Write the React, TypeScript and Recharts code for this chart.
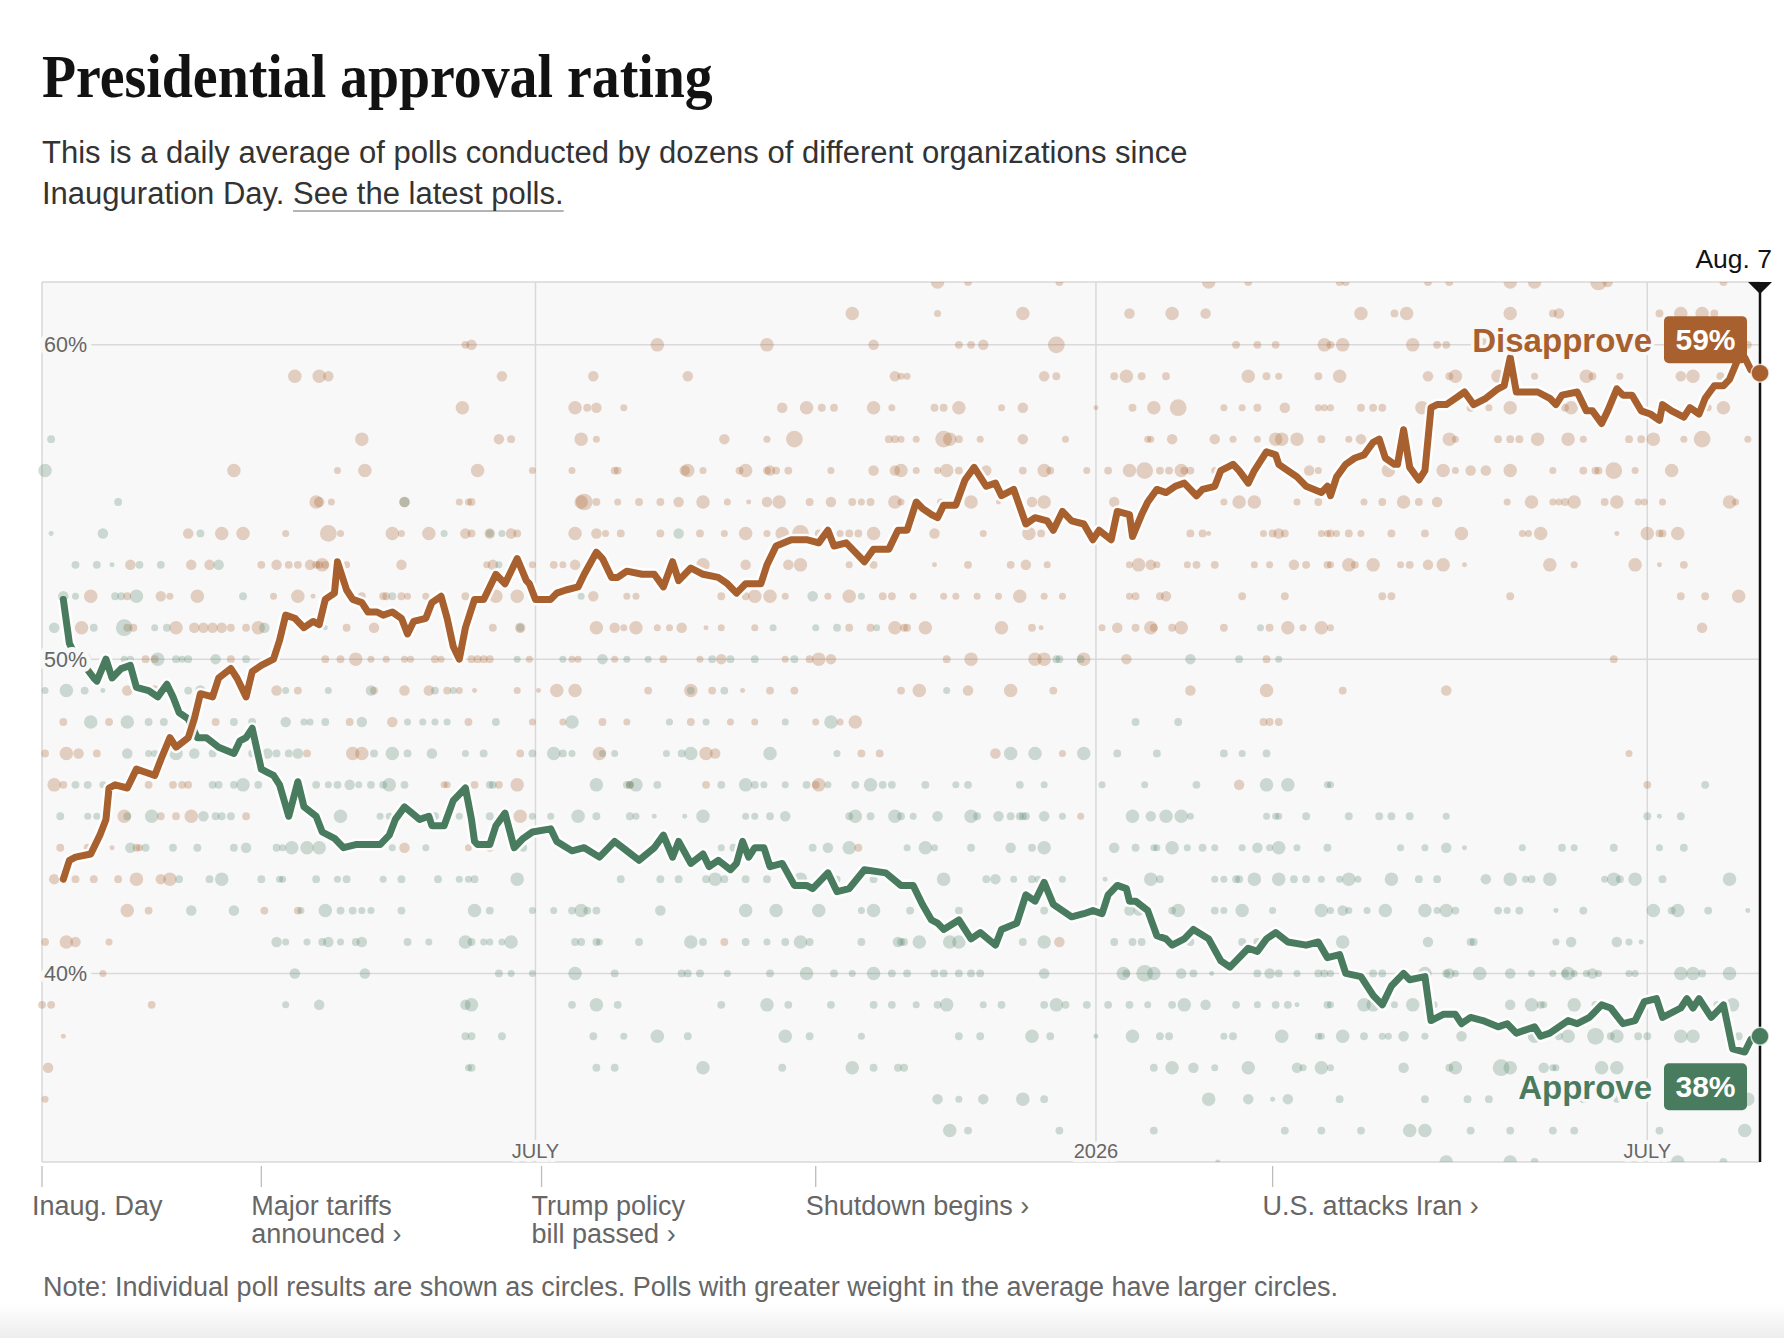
import React from 'react';
import {
  ComposedChart,
  Line,
  Scatter,
  XAxis,
  YAxis,
  ZAxis,
  CartesianGrid,
  ReferenceLine,
} from 'recharts';

const ORANGE = '#a8602f';
const GREEN = '#497c5f';
const PLOT_BG = '#f8f8f8';
const SANS = '"Liberation Sans", Arial, Helvetica, sans-serif';

// x = days since Inauguration Day (Jan. 20, 2025)
const latestDay = 564;
const latestLabel = 'Aug. 7';

const yTicks = [40, 50, 60];
const xTickDays = [162, 346, 527];
const xTickLabels = ['JULY', '2026', 'JULY'];

const eventDays = [0, 72, 164, 254, 404];
const eventLabels = [
  ['Inaug. Day'],
  ['Major tariffs', 'announced ›'],
  ['Trump policy', 'bill passed ›'],
  ['Shutdown begins ›'],
  ['U.S. attacks Iran ›'],
];

// daily average [day, %]
const disapproveTrend: [number, number][] = [
  [7, 43.0], [9, 43.6], [11, 43.7], [16, 43.8], [19, 44.4], [21, 44.9], [22, 45.9], [24, 46.0],
  [28, 45.9], [31, 46.5], [34, 46.4], [37, 46.3], [39, 46.8], [42, 47.5], [44, 47.2], [48, 47.5],
  [50, 48.1], [52, 48.9], [56, 48.8], [58, 49.4], [62, 49.7], [64, 49.4], [67, 48.8], [69, 49.6],
  [72, 49.8], [76, 50.0], [78, 50.6], [80, 51.4], [83, 51.3], [86, 51.0], [89, 51.2], [91, 51.1],
  [93, 51.9], [96, 52.1], [97, 53.1], [100, 52.2], [102, 51.9], [105, 51.8], [107, 51.5], [110, 51.5],
  [112, 51.4], [115, 51.5], [118, 51.3], [120, 50.8], [122, 51.2], [126, 51.3], [128, 51.8], [131, 52.0],
  [133, 51.3], [135, 50.4], [137, 50.0], [139, 51.0], [140, 51.3], [142, 51.9], [145, 51.9], [149, 52.7],
  [152, 52.4], [156, 53.2], [159, 52.5], [160, 52.4], [162, 51.9], [167, 51.9], [169, 52.1], [172, 52.2],
  [176, 52.3], [178, 52.7], [182, 53.4], [184, 53.2], [187, 52.6], [189, 52.6], [192, 52.8], [197, 52.7],
  [201, 52.7], [204, 52.3], [207, 53.1], [209, 52.5], [213, 52.9], [217, 52.7], [222, 52.6], [225, 52.4],
  [228, 52.1], [231, 52.4], [236, 52.4], [238, 53.0], [241, 53.6], [246, 53.8], [251, 53.8], [255, 53.7],
  [258, 54.1], [260, 53.6], [264, 53.7], [266, 53.5], [270, 53.1], [273, 53.5], [278, 53.5], [281, 54.1],
  [284, 54.1], [287, 55.0], [289, 54.8], [292, 54.6], [294, 54.5], [296, 54.9], [300, 54.9], [303, 55.7],
  [306, 56.1], [310, 55.5], [313, 55.6], [315, 55.2], [319, 55.4], [323, 54.3], [326, 54.5], [330, 54.4],
  [332, 54.1], [335, 54.7], [338, 54.4], [342, 54.3], [345, 53.8], [347, 54.1], [351, 53.8], [353, 54.7],
  [357, 54.6], [358, 53.9], [361, 54.6], [363, 55.0], [366, 55.4], [369, 55.3], [372, 55.5], [375, 55.6],
  [379, 55.2], [381, 55.4], [385, 55.5], [387, 56.0], [391, 56.2], [393, 56.0], [396, 55.6], [398, 56.0],
  [402, 56.6], [405, 56.5], [406, 56.2], [409, 56.0], [412, 55.8], [415, 55.5], [420, 55.3], [422, 55.5],
  [423, 55.2], [425, 55.8], [428, 56.2], [431, 56.4], [434, 56.5], [437, 56.9], [439, 57.0], [441, 56.4],
  [444, 56.2], [445, 56.2], [447, 57.3], [449, 56.1], [452, 55.7], [454, 56.0], [456, 58.0], [458, 58.1],
  [461, 58.1], [464, 58.3], [467, 58.5], [470, 58.1], [474, 58.3], [478, 58.6], [480, 58.7], [482, 59.6],
  [484, 58.5], [486, 58.5], [491, 58.5], [495, 58.3], [497, 58.1], [499, 58.4], [504, 58.5], [507, 57.9],
  [509, 57.9], [512, 57.5], [514, 57.9], [517, 58.6], [519, 58.4], [522, 58.4], [525, 57.9], [528, 57.8],
  [531, 57.6], [532, 58.1], [535, 57.9], [539, 57.7], [541, 58.0], [544, 57.8], [546, 58.3], [549, 58.7],
  [552, 58.7], [554, 58.9], [557, 59.6], [559, 59.6], [561, 59.2], [564, 59.1],
];

const approveTrend: [number, number][] = [
  [7, 51.9], [9, 50.5], [10, 50.3], [17, 49.4], [18, 49.3], [21, 50.0], [23, 49.4], [26, 49.7],
  [29, 49.8], [31, 49.1], [35, 49.0], [38, 48.8], [41, 49.2], [43, 48.8], [45, 48.3], [48, 48.1],
  [51, 47.5], [54, 47.5], [58, 47.2], [63, 47.0], [65, 47.4], [67, 47.5], [69, 47.8], [72, 46.5],
  [74, 46.4], [76, 46.3], [78, 46.0], [81, 45.0], [84, 46.1], [86, 45.3], [90, 45.0], [92, 44.5],
  [96, 44.3], [99, 44.0], [103, 44.1], [109, 44.1], [111, 44.1], [114, 44.4], [116, 44.9], [119, 45.3],
  [124, 44.9], [127, 45.0], [128, 44.7], [132, 44.7], [135, 45.5], [139, 45.9], [141, 44.9], [142, 44.2],
  [143, 44.1], [147, 44.1], [149, 44.7], [152, 45.1], [155, 44.0], [158, 44.3], [161, 44.5], [167, 44.6],
  [169, 44.2], [174, 43.9], [178, 44.0], [183, 43.7], [188, 44.2], [192, 43.9], [196, 43.6], [201, 44.0],
  [204, 44.4], [207, 43.7], [209, 44.2], [213, 43.5], [217, 43.8], [219, 43.4], [222, 43.6], [226, 43.3],
  [228, 43.5], [230, 44.2], [232, 43.7], [234, 44.0], [237, 44.0], [239, 43.4], [243, 43.5], [247, 42.8],
  [251, 42.8], [253, 42.7], [258, 43.2], [261, 42.6], [265, 42.7], [270, 43.3], [277, 43.2], [282, 42.8],
  [286, 42.8], [289, 42.2], [292, 41.7], [294, 41.6], [296, 41.4], [301, 41.7], [305, 41.1], [308, 41.3],
  [313, 40.9], [315, 41.4], [320, 41.6], [323, 42.5], [326, 42.3], [329, 42.9], [332, 42.2], [338, 41.8],
  [342, 41.9], [345, 42.0], [348, 41.9], [350, 42.5], [353, 42.8], [356, 42.7], [357, 42.3], [359, 42.3],
  [363, 42.0], [366, 41.2], [369, 41.1], [371, 40.9], [375, 41.1], [378, 41.4], [383, 41.1], [387, 40.4],
  [390, 40.2], [396, 40.8], [399, 40.7], [402, 41.1], [405, 41.3], [409, 41.0], [415, 40.9], [419, 41.0],
  [422, 40.5], [426, 40.6], [428, 40.0], [433, 39.9], [437, 39.3], [440, 39.0], [443, 39.6], [447, 40.0],
  [449, 39.8], [454, 39.9], [456, 38.5], [460, 38.7], [464, 38.7], [466, 38.4], [469, 38.6], [473, 38.5],
  [478, 38.3], [481, 38.4], [484, 38.1], [490, 38.3], [492, 38.0], [495, 38.1], [501, 38.5], [504, 38.4],
  [508, 38.6], [512, 39.0], [515, 38.9], [519, 38.4], [523, 38.5], [526, 39.1], [530, 39.2], [532, 38.6],
  [538, 38.9], [540, 39.2], [542, 38.9], [544, 39.2], [548, 38.6], [550, 38.8], [552, 39.0], [555, 37.6],
  [559, 37.5], [561, 37.9], [564, 38.0],
];

// individual polls [day, %, weight]
const disapprovePollsA: [number, number, number][] = [
  [139, 60, 4], [83, 59, 14], [91, 59, 14], [94, 59, 8], [138, 58, 14], [105, 57, 14],
  [63, 56, 14], [97, 56, 3], [106, 56, 14],
  [90, 55, 14], [91, 55, 8], [95, 55, 3], [119, 55, 8], [137, 55, 3], [140, 55, 3],
  [48, 54, 8], [59, 54, 14], [66, 54, 14], [80, 54, 3], [94, 54, 22], [98, 54, 3], [115, 54, 14], [118, 54, 3], [127, 54, 14], [139, 54, 8],
  [29, 53, 8], [49, 53, 8], [55, 53, 8], [72, 53, 4], [77, 53, 8], [81, 53, 4], [84, 53, 4], [88, 53, 8], [90, 53, 4], [91, 53, 4], [92, 53, 14], [93, 53, 4], [100, 53, 3], [118, 53, 8],
  [16, 52, 14], [28, 52, 4], [39, 52, 8], [42, 52, 3], [51, 52, 14], [76, 52, 3], [84, 52, 14], [89, 52, 1], [105, 52, 4], [112, 52, 4], [113, 52, 4], [118, 52, 4], [120, 52, 3], [126, 52, 3], [139, 52, 4],
  [13, 51, 14], [28, 51, 4], [30, 51, 4], [44, 51, 14], [50, 51, 8], [53, 51, 8], [56, 51, 8], [59, 51, 8], [62, 51, 4], [67, 51, 4], [71, 51, 14], [100, 51, 4], [109, 51, 8],
  [34, 50, 4], [37, 50, 4], [62, 50, 4], [93, 50, 4], [98, 50, 4], [103, 50, 14], [108, 50, 3], [113, 50, 3], [119, 50, 3], [121, 50, 3], [129, 50, 4], [131, 50, 3],
  [28, 49, 8], [37, 49, 8], [77, 49, 8], [84, 49, 4], [109, 49, 4], [119, 49, 8], [127, 49, 8], [133, 49, 4], [137, 49, 3],
  [7, 48, 4], [22, 48, 4], [57, 48, 4], [101, 48, 4], [115, 48, 8], [140, 48, 4],
  [1, 47, 4], [8, 47, 14], [12, 47, 8], [18, 47, 4], [87, 47, 4], [102, 47, 14], [105, 47, 14],
  [4, 46, 14], [7, 46, 4], [35, 46, 4], [43, 46, 4], [46, 46, 4], [48, 46, 4], [132, 46, 3], [133, 46, 3],
  [27, 45, 14], [39, 45, 4], [44, 45, 4], [49, 45, 14], [67, 45, 4],
  [6, 44, 4], [15, 44, 4], [23, 44, 1], [31, 44, 4], [32, 44, 3], [119, 44, 8], [140, 44, 3],
  [4, 43, 8], [11, 43, 4], [17, 43, 4], [25, 43, 4], [31, 43, 14], [39, 43, 8], [42, 43, 14],
  [28, 42, 14], [35, 42, 4], [73, 42, 4], [84, 42, 4],
  [1, 41, 4], [8, 41, 14], [11, 41, 8], [22, 41, 3], [20, 40, 3],
  [0, 39, 4], [3, 39, 4], [36, 39, 4], [7, 38, 1], [2, 37, 8], [1, 36, 3],
];

const disapprovePollsB: [number, number, number][] = [
  [266, 61, 14], [141, 60, 8], [202, 60, 14], [238, 60, 14], [273, 60, 8],
  [151, 59, 8], [181, 59, 8], [212, 59, 8], [280, 59, 8],
  [175, 58, 14], [179, 58, 4], [182, 58, 8], [191, 58, 3], [243, 58, 8], [251, 58, 14], [256, 58, 4], [260, 58, 4], [273, 58, 14], [279, 58, 3],
  [150, 57, 8], [154, 57, 4], [177, 57, 14], [182, 57, 3], [224, 57, 8], [238, 57, 3], [247, 57, 22], [278, 57, 4], [280, 57, 4],
  [143, 56, 14], [161, 56, 3], [174, 56, 3], [188, 56, 4], [189, 56, 4], [211, 56, 8], [212, 56, 14], [217, 56, 3], [229, 56, 4], [231, 56, 14], [238, 56, 4], [239, 56, 8], [241, 56, 4], [245, 56, 4], [259, 56, 3], [273, 56, 8], [280, 56, 8],
  [141, 55, 4], [177, 55, 14], [178, 55, 22], [182, 55, 4], [189, 55, 3], [196, 55, 4], [203, 55, 4], [209, 55, 8], [217, 55, 14], [225, 55, 3], [232, 55, 1], [238, 55, 8], [242, 55, 14], [252, 55, 4], [259, 55, 8], [266, 55, 4], [269, 55, 3], [272, 55, 4], [280, 55, 14],
  [141, 54, 4], [147, 54, 8], [154, 54, 8], [156, 54, 4], [175, 54, 14], [182, 54, 8], [185, 54, 3], [190, 54, 4], [203, 54, 4], [216, 54, 4], [224, 54, 3], [231, 54, 14], [238, 54, 3], [243, 54, 14], [249, 54, 22], [255, 54, 4], [262, 54, 3], [265, 54, 4], [268, 54, 4], [273, 54, 14],
  [146, 53, 3], [148, 53, 8], [161, 53, 3], [168, 53, 4], [171, 53, 3], [175, 53, 8], [217, 53, 14], [231, 53, 8], [245, 53, 8], [249, 53, 14], [265, 53, 3], [273, 53, 4],
  [149, 52, 14], [156, 52, 14], [181, 52, 8], [192, 52, 3], [195, 52, 3], [223, 52, 4], [231, 52, 4], [234, 52, 14], [239, 52, 14], [244, 52, 3], [258, 52, 3], [265, 52, 14], [276, 52, 4], [279, 52, 4],
  [148, 51, 4], [157, 51, 8], [182, 51, 14], [188, 51, 8], [191, 51, 3], [195, 51, 14], [202, 51, 3], [206, 51, 3], [210, 51, 8], [218, 51, 1], [223, 51, 3], [234, 51, 3], [265, 51, 4], [272, 51, 4], [280, 51, 14],
  [141, 50, 4], [143, 50, 4], [145, 50, 4], [147, 50, 4], [160, 50, 3], [174, 50, 3], [176, 50, 3], [188, 50, 3], [204, 50, 4], [216, 50, 3], [223, 50, 8], [244, 50, 3], [252, 50, 4], [255, 50, 14], [259, 50, 8],
  [142, 49, 1], [156, 49, 3], [163, 49, 1], [169, 49, 14], [175, 49, 14], [199, 49, 4], [213, 49, 14], [220, 49, 4], [230, 49, 1], [239, 49, 4], [247, 49, 4],
  [161, 48, 3], [171, 48, 3], [184, 48, 4], [192, 48, 3], [213, 48, 4], [226, 48, 3], [234, 48, 3], [254, 48, 3], [262, 48, 3], [267, 48, 14],
  [157, 47, 4], [183, 47, 14], [218, 47, 14], [221, 47, 8], [269, 47, 4], [275, 47, 4],
  [142, 46, 4], [150, 46, 4], [156, 46, 14], [193, 46, 4], [218, 46, 4], [254, 46, 4], [255, 46, 14],
  [157, 45, 14], [147, 44, 4], [268, 44, 4], [224, 41, 4],
];

const disapprovePollsC: [number, number, number][] = [
  [294, 62, 14], [304, 62, 4], [334, 62, 4], [383, 62, 14], [396, 62, 4],
  [294, 61, 3], [322, 61, 14], [357, 61, 8], [371, 61, 14], [382, 61, 8],
  [301, 60, 4], [305, 60, 4], [309, 60, 8], [333, 60, 22], [392, 60, 4], [399, 60, 4], [405, 60, 4], [421, 60, 14],
  [282, 59, 3], [284, 59, 3], [329, 59, 8], [333, 59, 4], [352, 59, 4], [356, 59, 14], [361, 59, 4], [369, 59, 4], [396, 59, 14], [402, 59, 4], [406, 59, 3], [419, 59, 4],
  [293, 58, 4], [296, 58, 4], [301, 58, 14], [315, 58, 3], [322, 58, 8], [346, 58, 1], [358, 58, 4], [365, 58, 14], [373, 58, 22], [388, 58, 3], [394, 58, 3], [399, 58, 4], [408, 58, 8], [419, 58, 3], [421, 58, 3],
  [282, 57, 3], [287, 57, 3], [296, 57, 22], [298, 57, 14], [301, 57, 4], [308, 57, 3], [322, 57, 8], [336, 57, 3], [363, 57, 3], [364, 57, 3], [371, 57, 8], [385, 57, 8], [391, 57, 3], [399, 57, 3], [405, 57, 14], [407, 57, 14], [412, 57, 14], [420, 57, 4],
  [282, 56, 14], [287, 56, 3], [294, 56, 3], [297, 56, 14], [301, 56, 4], [310, 56, 8], [322, 56, 4], [329, 56, 14], [331, 56, 4], [343, 56, 3], [350, 56, 4], [357, 56, 14], [362, 56, 22], [367, 56, 4], [370, 56, 4], [374, 56, 14], [375, 56, 4], [377, 56, 4], [385, 56, 3], [416, 56, 8], [419, 56, 3],
  [282, 55, 3], [295, 55, 3], [305, 55, 14], [314, 55, 1], [325, 55, 8], [329, 55, 14], [352, 55, 8], [388, 55, 3], [393, 55, 14], [398, 55, 14], [412, 55, 3], [419, 55, 4],
  [293, 54, 8], [309, 54, 3], [324, 54, 14], [328, 54, 4], [377, 54, 4], [381, 54, 4], [383, 54, 1], [401, 54, 3], [404, 54, 4], [406, 54, 8], [408, 54, 4], [420, 54, 3], [422, 54, 3],
  [293, 53, 1], [304, 53, 4], [318, 53, 4], [323, 53, 8], [330, 53, 3], [357, 53, 3], [360, 53, 14], [364, 53, 8], [366, 53, 3], [376, 53, 3], [379, 53, 4], [385, 53, 4], [398, 53, 3], [403, 53, 3], [411, 53, 8], [415, 53, 4], [422, 53, 4],
  [286, 52, 3], [296, 52, 3], [300, 52, 3], [307, 52, 3], [314, 52, 3], [321, 52, 14], [329, 52, 3], [335, 52, 3], [357, 52, 3], [359, 52, 4], [367, 52, 4], [369, 52, 8], [394, 52, 4], [408, 52, 4],
  [283, 51, 4], [284, 51, 4], [290, 51, 14], [315, 51, 14], [325, 51, 4], [328, 51, 1], [348, 51, 3], [353, 51, 8], [359, 51, 4], [364, 51, 14], [365, 51, 4], [371, 51, 4], [374, 51, 14], [388, 51, 4], [403, 51, 4], [409, 51, 14], [414, 51, 3], [420, 51, 14],
  [297, 50, 4], [305, 50, 14], [326, 50, 14], [329, 50, 14], [342, 50, 14], [356, 50, 8], [402, 50, 4],
  [282, 49, 4], [288, 49, 14], [304, 49, 8], [318, 49, 14], [332, 49, 4], [377, 49, 8], [402, 49, 14],
  [401, 48, 4], [403, 48, 4], [406, 48, 4], [313, 47, 8], [335, 47, 3], [393, 46, 8], [341, 45, 3], [334, 41, 8],
];

const disapprovePollsD: [number, number, number][] = [
  [426, 62, 4], [428, 62, 4], [455, 62, 4], [462, 62, 4], [482, 62, 14], [490, 62, 14], [511, 62, 22], [514, 62, 8], [552, 62, 4],
  [433, 61, 14], [444, 61, 4], [448, 61, 14], [482, 61, 14], [496, 61, 4], [498, 61, 8], [531, 61, 4], [538, 61, 14], [545, 61, 14], [549, 61, 4],
  [423, 60, 4], [427, 60, 14], [450, 60, 14], [458, 60, 4], [461, 60, 4], [473, 60, 14], [560, 60, 4],
  [426, 59, 14], [455, 59, 8], [462, 59, 4], [464, 59, 14], [478, 59, 14], [490, 59, 3], [507, 59, 14], [509, 59, 4], [518, 59, 3], [538, 59, 8], [542, 59, 14], [551, 59, 4],
  [423, 58, 3], [433, 58, 4], [437, 58, 4], [440, 58, 4], [453, 58, 14], [469, 58, 4], [475, 58, 3], [482, 58, 14], [500, 58, 4], [502, 58, 14], [547, 58, 3], [552, 58, 14],
  [429, 57, 3], [433, 57, 8], [439, 57, 4], [462, 57, 14], [464, 57, 3], [478, 57, 4], [482, 57, 4], [485, 57, 4], [491, 57, 14], [501, 57, 14], [506, 57, 3], [521, 57, 4], [525, 57, 4], [529, 57, 14], [539, 57, 3], [545, 57, 22], [560, 57, 3],
  [442, 56, 14], [460, 56, 14], [464, 56, 3], [469, 56, 8], [474, 56, 8], [482, 56, 14], [496, 56, 3], [506, 56, 4], [510, 56, 4], [511, 56, 4], [516, 56, 22], [523, 56, 3], [535, 56, 14],
  [434, 55, 3], [440, 55, 4], [447, 55, 14], [452, 55, 4], [458, 55, 8], [481, 55, 3], [489, 55, 14], [496, 55, 3], [498, 55, 3], [500, 55, 4], [503, 55, 14], [513, 55, 4], [517, 55, 14], [524, 55, 3], [526, 55, 3], [532, 55, 3], [554, 55, 14], [556, 55, 3],
  [423, 54, 4], [425, 54, 3], [429, 54, 4], [433, 54, 3], [443, 54, 4], [454, 54, 4], [466, 54, 14], [486, 54, 3], [488, 54, 3], [492, 54, 14], [517, 54, 1], [527, 54, 14], [531, 54, 4], [532, 54, 4], [537, 54, 14],
  [423, 53, 3], [429, 53, 14], [431, 53, 4], [437, 53, 14], [446, 53, 3], [449, 53, 4], [455, 53, 8], [460, 53, 14], [467, 53, 1], [495, 53, 14], [503, 53, 3], [523, 53, 14], [531, 53, 1], [539, 53, 4],
  [440, 52, 4], [443, 52, 4], [482, 52, 4], [538, 52, 4], [546, 52, 4], [557, 52, 14],
  [423, 51, 3], [545, 51, 8], [516, 50, 4], [427, 49, 4], [461, 49, 8], [521, 47, 3], [527, 46, 4],
];

const approvePollsA: [number, number, number][] = [
  [3, 57, 4], [1, 56, 14], [25, 55, 4], [119, 55, 8],
  [3, 54, 1], [20, 54, 8], [52, 54, 4], [132, 54, 3],
  [11, 53, 4], [18, 53, 4], [23, 53, 1], [32, 53, 4], [39, 53, 4], [58, 53, 8],
  [7, 52, 8], [11, 52, 3], [24, 52, 4], [26, 52, 4], [31, 52, 14], [66, 52, 4], [115, 52, 4],
  [4, 51, 8], [17, 51, 4], [27, 51, 22], [37, 51, 3], [41, 51, 4], [73, 51, 8], [93, 51, 1],
  [14, 50, 14], [27, 50, 3], [29, 50, 3], [38, 50, 14], [44, 50, 4], [46, 50, 3], [48, 50, 4], [57, 50, 8], [67, 50, 4],
  [1, 49, 3], [8, 49, 14], [14, 49, 4], [20, 49, 1], [48, 49, 4], [52, 49, 8], [80, 49, 3], [94, 49, 3], [108, 49, 8], [129, 49, 4], [135, 49, 3],
  [16, 48, 14], [28, 48, 14], [35, 48, 4], [40, 48, 4], [63, 48, 4], [69, 48, 4], [80, 48, 8], [86, 48, 3], [88, 48, 3], [93, 48, 4], [105, 48, 8], [120, 48, 3], [125, 48, 3], [129, 48, 3], [133, 48, 3],
  [28, 47, 8], [35, 47, 3], [37, 47, 3], [44, 47, 14], [50, 47, 8], [56, 47, 4], [69, 47, 4], [74, 47, 8], [77, 47, 4], [81, 47, 4], [84, 47, 8], [109, 47, 4], [115, 47, 14], [120, 47, 4], [128, 47, 8], [139, 47, 3],
  [11, 46, 4], [15, 46, 4], [20, 46, 3], [56, 46, 4], [58, 46, 4], [63, 46, 4], [66, 46, 14], [71, 46, 4], [90, 46, 4], [94, 46, 3], [97, 46, 4], [101, 46, 8], [104, 46, 3], [108, 46, 4], [112, 46, 4], [114, 46, 14], [119, 46, 4],
  [6, 45, 4], [15, 45, 3], [18, 45, 3], [28, 45, 4], [36, 45, 14], [53, 45, 8], [57, 45, 4], [59, 45, 4], [62, 45, 4], [98, 45, 14], [111, 45, 3], [114, 45, 3], [126, 45, 3], [129, 45, 4], [137, 45, 3],
  [29, 44, 8], [34, 44, 4], [43, 44, 4], [51, 44, 4], [63, 44, 4], [67, 44, 8], [77, 44, 4], [79, 44, 3], [82, 44, 14], [87, 44, 14], [91, 44, 14], [115, 44, 3], [126, 44, 3],
  [45, 43, 4], [55, 43, 4], [59, 43, 14], [72, 43, 4], [78, 43, 3], [79, 43, 3], [90, 43, 4], [97, 43, 3], [100, 43, 4], [112, 43, 3], [118, 43, 4], [130, 43, 4], [137, 43, 3], [140, 43, 3],
  [49, 42, 8], [63, 42, 8], [85, 42, 3], [93, 42, 14], [98, 42, 4], [102, 42, 4], [105, 42, 3], [108, 42, 3], [118, 42, 4],
  [77, 41, 8], [80, 41, 3], [87, 41, 3], [92, 41, 4], [94, 41, 8], [98, 41, 3], [103, 41, 4], [105, 41, 8], [120, 41, 4], [127, 41, 3], [139, 41, 14],
  [83, 40, 8], [106, 40, 8], [80, 39, 3], [91, 39, 8], [139, 39, 8], [139, 38, 4], [140, 37, 3],
];

const approvePollsB: [number, number, number][] = [
  [147, 54, 4], [151, 54, 3], [209, 54, 8], [150, 53, 3], [177, 52, 3], [253, 52, 8], [269, 52, 3],
  [157, 51, 4], [240, 51, 3], [254, 51, 3], [261, 51, 4], [274, 51, 3],
  [156, 50, 3], [171, 50, 3], [184, 50, 8], [192, 50, 3], [199, 50, 3], [220, 50, 4], [226, 50, 4], [234, 50, 4], [247, 50, 4],
  [213, 49, 4], [224, 49, 4],
  [149, 48, 4], [174, 48, 14], [206, 48, 3], [218, 48, 3], [244, 48, 3], [259, 48, 14],
  [145, 47, 4], [161, 47, 4], [168, 47, 14], [171, 47, 4], [174, 47, 3], [184, 47, 3], [188, 47, 3], [205, 47, 3], [210, 47, 4], [213, 47, 14], [239, 47, 14], [261, 47, 3],
  [147, 46, 4], [148, 46, 4], [182, 46, 14], [192, 46, 4], [193, 46, 4], [195, 46, 14], [202, 46, 4], [223, 46, 4], [231, 46, 14], [234, 46, 4], [237, 46, 3], [244, 46, 3], [251, 46, 4], [258, 46, 3], [267, 46, 4], [272, 46, 14], [276, 46, 4], [279, 46, 4],
  [147, 45, 4], [161, 45, 3], [167, 45, 3], [176, 45, 14], [182, 45, 4], [193, 45, 4], [195, 45, 3], [201, 45, 1], [211, 45, 1], [217, 45, 14], [231, 45, 3], [234, 45, 3], [239, 45, 4], [244, 45, 8], [265, 45, 4], [267, 45, 14], [272, 45, 4], [280, 45, 14],
  [158, 44, 4], [178, 44, 4], [223, 44, 3], [227, 44, 4], [253, 44, 4], [258, 44, 8], [265, 44, 14],
  [142, 43, 4], [156, 43, 14], [190, 43, 4], [203, 43, 4], [209, 43, 4], [218, 43, 4], [221, 43, 14], [224, 43, 4], [231, 43, 4], [238, 43, 4], [249, 43, 14], [261, 43, 3], [273, 43, 4],
  [142, 42, 14], [147, 42, 4], [161, 42, 3], [168, 42, 3], [174, 42, 4], [177, 42, 14], [179, 42, 4], [182, 42, 4], [203, 42, 8], [231, 42, 14], [241, 42, 14], [255, 42, 14], [269, 42, 3], [273, 42, 14],
  [141, 41, 4], [145, 41, 3], [147, 41, 3], [151, 41, 3], [154, 41, 14], [175, 41, 4], [177, 41, 4], [182, 41, 4], [183, 41, 3], [196, 41, 4], [213, 41, 14], [217, 41, 4], [231, 41, 4], [238, 41, 3], [244, 41, 4], [249, 41, 14], [252, 41, 4], [269, 41, 4], [281, 41, 8],
  [150, 40, 4], [154, 40, 3], [161, 40, 3], [175, 40, 14], [188, 40, 4], [210, 40, 4], [212, 40, 4], [216, 40, 4], [225, 40, 3], [239, 40, 4], [251, 40, 14], [260, 40, 4], [266, 40, 3], [273, 40, 14], [279, 40, 4],
  [141, 39, 14], [174, 39, 4], [182, 39, 14], [189, 39, 4], [223, 39, 4], [238, 39, 14], [245, 39, 4], [259, 39, 4], [273, 39, 4], [279, 39, 4],
  [141, 38, 4], [151, 38, 4], [181, 38, 4], [191, 38, 3], [202, 38, 14], [212, 38, 4], [244, 38, 14], [252, 38, 4], [269, 38, 3],
  [141, 37, 4], [182, 37, 4], [188, 37, 4], [217, 37, 14], [243, 37, 4], [266, 37, 14], [273, 37, 4], [281, 37, 4],
];

const approvePollsC: [number, number, number][] = [
  [400, 51, 3], [333, 50, 4], [334, 50, 4], [341, 50, 4], [377, 50, 8], [393, 50, 4], [406, 50, 3], [297, 49, 3],
  [359, 48, 4], [373, 48, 4],
  [318, 47, 14], [326, 47, 14], [342, 47, 14], [353, 47, 4], [366, 47, 4], [388, 47, 4], [394, 47, 3], [402, 47, 4],
  [290, 46, 4], [300, 46, 3], [304, 46, 4], [321, 46, 4], [329, 46, 3], [348, 46, 3], [362, 46, 3], [379, 46, 4], [402, 46, 14], [409, 46, 14], [422, 46, 3],
  [282, 45, 4], [286, 45, 3], [294, 45, 8], [305, 45, 14], [307, 45, 4], [314, 45, 8], [318, 45, 4], [321, 45, 4], [322, 45, 4], [323, 45, 4], [329, 45, 8], [335, 45, 3], [358, 45, 14], [364, 45, 8], [369, 45, 14], [374, 45, 14], [377, 45, 3], [402, 45, 3], [405, 45, 3], [406, 45, 3], [415, 45, 4],
  [284, 44, 3], [290, 44, 14], [293, 44, 3], [305, 44, 4], [318, 44, 8], [325, 44, 4], [329, 44, 14], [352, 44, 8], [359, 44, 4], [365, 44, 3], [366, 44, 3], [371, 44, 14], [376, 44, 3], [381, 44, 4], [385, 44, 3], [394, 44, 3], [399, 44, 8], [403, 44, 3], [406, 44, 14], [412, 44, 3], [422, 44, 4],
  [296, 43, 14], [310, 43, 4], [313, 43, 8], [319, 43, 3], [325, 43, 4], [327, 43, 3], [335, 43, 3], [349, 43, 1], [364, 43, 14], [367, 43, 4], [385, 43, 3], [388, 43, 3], [392, 43, 4], [393, 43, 4], [398, 43, 14], [406, 43, 14], [411, 43, 4], [415, 43, 4], [420, 43, 3],
  [285, 42, 4], [301, 42, 4], [329, 42, 4], [357, 42, 8], [360, 42, 8], [371, 42, 4], [373, 42, 14], [385, 42, 4], [388, 42, 3], [394, 42, 14], [404, 42, 3], [420, 42, 14],
  [282, 41, 4], [283, 41, 4], [288, 41, 14], [298, 41, 14], [301, 41, 14], [322, 41, 4], [329, 41, 14], [352, 41, 4], [358, 41, 4], [361, 41, 4], [377, 41, 4], [394, 41, 4], [399, 41, 4], [419, 41, 4],
  [284, 40, 4], [293, 40, 4], [296, 40, 4], [301, 40, 4], [305, 40, 4], [308, 40, 4], [329, 40, 8], [355, 40, 14], [356, 40, 4], [362, 40, 22], [365, 40, 14], [374, 40, 8], [378, 40, 4], [384, 40, 1], [399, 40, 4], [403, 40, 8], [406, 40, 4], [412, 40, 3], [419, 40, 4], [421, 40, 4],
  [287, 39, 3], [294, 39, 4], [297, 39, 14], [309, 39, 3], [315, 39, 4], [329, 39, 4], [333, 39, 14], [336, 39, 4], [343, 39, 4], [350, 39, 4], [357, 39, 4], [363, 39, 3], [371, 39, 4], [375, 39, 14], [382, 39, 8], [392, 39, 4], [399, 39, 3], [405, 39, 4], [409, 39, 4], [412, 39, 1], [422, 39, 4],
  [301, 38, 4], [308, 38, 4], [325, 38, 14], [331, 38, 4], [346, 38, 1], [358, 38, 14], [367, 38, 4], [370, 38, 4], [388, 38, 3], [391, 38, 4], [407, 38, 14], [419, 38, 3], [420, 38, 3],
  [283, 37, 4], [365, 37, 4], [371, 37, 14], [378, 37, 8], [385, 37, 3], [396, 37, 14], [412, 37, 8], [414, 37, 3], [420, 37, 14],
  [294, 36, 8], [301, 36, 3], [309, 36, 8], [322, 36, 14], [329, 36, 4], [383, 36, 14], [396, 36, 8], [404, 36, 1], [409, 36, 8],
  [298, 35, 14], [304, 35, 4], [334, 35, 4], [365, 35, 4], [408, 35, 4], [420, 35, 4], [386, 34, 1],
];

const approvePollsD: [number, number, number][] = [
  [423, 46, 3], [546, 46, 4],
  [429, 45, 4], [439, 45, 4], [443, 45, 4], [449, 45, 4], [461, 45, 3], [527, 45, 4], [531, 45, 1], [538, 45, 4],
  [446, 44, 3], [454, 44, 3], [461, 44, 8], [467, 44, 1], [486, 44, 3], [499, 44, 4], [503, 44, 3], [516, 44, 4], [531, 44, 3], [539, 44, 4],
  [426, 43, 3], [429, 43, 14], [432, 43, 3], [443, 43, 14], [452, 43, 4], [458, 43, 4], [474, 43, 8], [482, 43, 14], [487, 43, 3], [489, 43, 4], [495, 43, 14], [513, 43, 3], [516, 43, 14], [518, 43, 4], [523, 43, 14], [532, 43, 4], [554, 43, 14],
  [423, 42, 3], [427, 42, 8], [429, 42, 3], [435, 42, 3], [441, 42, 14], [454, 42, 14], [458, 42, 3], [461, 42, 14], [464, 42, 4], [478, 42, 4], [481, 42, 3], [485, 42, 4], [497, 42, 1], [506, 42, 4], [529, 42, 14], [535, 42, 4], [537, 42, 14], [547, 42, 4], [560, 42, 1],
  [427, 41, 14], [455, 41, 8], [469, 41, 4], [470, 41, 4], [497, 41, 3], [502, 41, 8], [517, 41, 8], [521, 41, 3], [525, 41, 1],
  [423, 40, 3], [437, 40, 4], [440, 40, 4], [454, 40, 14], [461, 40, 4], [462, 40, 8], [464, 40, 3], [472, 40, 14], [482, 40, 8], [489, 40, 3], [496, 40, 3], [500, 40, 4], [501, 40, 14], [503, 40, 3], [507, 40, 3], [509, 40, 8], [511, 40, 3], [521, 40, 3], [523, 40, 3], [538, 40, 14], [542, 40, 14], [545, 40, 4], [554, 40, 14],
  [423, 39, 3], [434, 39, 14], [437, 39, 14], [444, 39, 3], [450, 39, 14], [457, 39, 3], [482, 39, 8], [489, 39, 14], [492, 39, 4], [493, 39, 3], [503, 39, 14], [510, 39, 4], [550, 39, 4], [555, 39, 14],
  [427, 38, 14], [434, 38, 4], [440, 38, 3], [442, 38, 3], [447, 38, 8], [454, 38, 3], [466, 38, 8], [490, 38, 14], [498, 38, 4], [501, 38, 14], [510, 38, 22], [515, 38, 4], [517, 38, 14], [524, 38, 4], [527, 38, 4], [538, 38, 14], [542, 38, 14], [557, 38, 4],
  [423, 37, 3], [447, 37, 8], [462, 37, 4], [464, 37, 14], [479, 37, 22], [482, 37, 14], [493, 37, 8], [496, 37, 3], [497, 37, 3], [512, 37, 14], [517, 37, 14],
  [426, 36, 4], [454, 36, 4], [468, 36, 4], [475, 36, 4], [506, 36, 4], [517, 36, 3], [560, 36, 14],
  [433, 35, 4], [449, 35, 14], [454, 35, 14], [469, 35, 4], [482, 35, 4], [496, 35, 4], [503, 35, 4], [531, 35, 4], [559, 35, 14],
  [461, 34, 14], [482, 34, 14], [490, 34, 4], [537, 34, 14], [552, 34, 4],
];

const toTrend = (rows: [number, number][]) => rows.map(([day, value]) => ({ day, value }));
const toPolls = (rows: [number, number, number][]) => rows.map(([day, pct, w]) => ({ day, pct, w }));

const disapproveData = toTrend(disapproveTrend);
const approveData = toTrend(approveTrend);
const disapprovePolls = toPolls([...disapprovePollsA, ...disapprovePollsB, ...disapprovePollsC, ...disapprovePollsD]);
const approvePolls = toPolls([...approvePollsA, ...approvePollsB, ...approvePollsC, ...approvePollsD]);

// text drawn twice: a background-coloured halo underneath, then the fill on top
const HaloText = ({ halo, haloWidth, children, ...rest }: any) => (
  <g>
    <text {...rest} fill={halo} stroke={halo} strokeWidth={haloWidth} strokeLinejoin="round">
      {children}
    </text>
    <text {...rest}>{children}</text>
  </g>
);

const renderYTick = (props: any) => {
  const { x, y, payload } = props;
  return (
    <HaloText x={x + 2} y={y + 7.5} textAnchor="start" fontSize={21.5} fill="#666" halo={PLOT_BG} haloWidth={10}>
      {payload.value}%
    </HaloText>
  );
};

const renderXTick = (props: any) => {
  const { x, y, payload } = props;
  const label = xTickLabels[xTickDays.indexOf(payload.value)];
  return (
    <HaloText x={x} y={y - 4} textAnchor="middle" fontSize={20} fill="#666" halo={PLOT_BG} haloWidth={8}>
      {label}
    </HaloText>
  );
};

// latest-day marker: triangle + date above the plot
const renderLatest = (props: any) => {
  const { x, y } = props.viewBox;
  return (
    <g>
      <path d={`M${x - 12},${y}L${x + 12},${y}L${x},${y + 12}Z`} fill="#121212" />
      <text x={x + 12} y={y - 14} textAnchor="end" fontSize={26.5} fill="#121212">
        {latestLabel}
      </text>
    </g>
  );
};

const makeEventLabel = (lines: string[]) => (props: any) => {
  const { x, y, height } = props.viewBox;
  const base = y + height;
  return (
    <g>
      <line x1={x} x2={x} y1={base + 4} y2={base + 25} stroke="#bdbdbd" strokeWidth={1.3} />
      <text x={x - 10} y={base + 53} fontSize={27} fill="#666">
        {lines.map((t, i) => (
          <tspan key={i} x={x - 10} dy={i === 0 ? 0 : 28.3}>
            {t}
          </tspan>
        ))}
      </text>
    </g>
  );
};

// end-of-line dot with series name and value badge
const makeEndDot = (color: string, name: string, lastIndex: number, badgeDy: number) => (props: any) => {
  const { cx, cy, index, payload } = props;
  if (index !== lastIndex) return <g key={`d-${index}`} />;
  const boxW = 83;
  const boxH = 47;
  const boxX = cx - 13 - boxW;
  const boxY = cy + badgeDy;
  return (
    <g key="end">
      <circle cx={cx} cy={cy} r={9} fill={color} stroke="#fff" strokeOpacity={0.7} strokeWidth={1.5} />
      <HaloText
        x={boxX - 12}
        y={boxY + 36}
        textAnchor="end"
        fontSize={33}
        fontWeight={700}
        fill={color}
        halo={PLOT_BG}
        haloWidth={7}
      >
        {name}
      </HaloText>
      <rect x={boxX} y={boxY} width={boxW} height={boxH} rx={5} fill={color} />
      <text x={boxX + boxW / 2} y={boxY + 34} textAnchor="middle" fontSize={30} fontWeight={700} fill="#fff">
        {Math.round(payload.value)}%
      </text>
    </g>
  );
};

export default function App() {
  return (
    <div
      style={{
        position: 'absolute',
        left: 0,
        top: 0,
        width: 1784,
        height: 1338,
        background: '#fff',
        fontFamily: SANS,
        overflow: 'hidden',
      }}
    >
      <div style={{ position: 'absolute', left: 0, top: 0 }}>
        <ComposedChart width={1784} height={1338} margin={{ top: 282, right: 24, bottom: 175, left: 41 }}>
          <CartesianGrid fill={PLOT_BG} stroke="#d9d9d9" strokeWidth={1.5} />
          <YAxis yAxisId="polls" dataKey="pct" type="number" domain={[34, 62]} allowDataOverflow hide width={0} />
          <ZAxis dataKey="w" type="number" range={[10, 220]} />

          <Scatter
            data={disapprovePolls}
            yAxisId="polls"
            fill={ORANGE}
            fillOpacity={0.28}
            isAnimationActive={false}
            zIndex={50}
          />
          <Scatter
            data={approvePolls}
            yAxisId="polls"
            fill={GREEN}
            fillOpacity={0.26}
            isAnimationActive={false}
            zIndex={50}
          />

          <Line
            data={approveData}
            dataKey="value"
            type="linear"
            stroke="#fff"
            strokeOpacity={0.9}
            strokeWidth={12}
            strokeLinejoin="round"
            dot={false}
            activeDot={false}
            isAnimationActive={false}
          />
          <Line
            data={approveData}
            dataKey="value"
            type="linear"
            stroke={GREEN}
            strokeWidth={7}
            strokeLinejoin="round"
            strokeLinecap="round"
            dot={makeEndDot(GREEN, 'Approve', approveData.length - 1, 27)}
            activeDot={false}
            isAnimationActive={false}
          />
          <Line
            data={disapproveData}
            dataKey="value"
            type="linear"
            stroke="#fff"
            strokeOpacity={0.9}
            strokeWidth={12}
            strokeLinejoin="round"
            dot={false}
            activeDot={false}
            isAnimationActive={false}
          />
          <Line
            data={disapproveData}
            dataKey="value"
            type="linear"
            stroke={ORANGE}
            strokeWidth={7}
            strokeLinejoin="round"
            strokeLinecap="round"
            dot={makeEndDot(ORANGE, 'Disapprove', disapproveData.length - 1, -57)}
            activeDot={false}
            isAnimationActive={false}
          />

          <XAxis
            dataKey="day"
            type="number"
            domain={[0, latestDay]}
            ticks={xTickDays}
            interval={0}
            height={1}
            tickSize={0}
            tickMargin={0}
            axisLine={false}
            tickLine={false}
            tick={renderXTick}
          />
          <YAxis
            type="number"
            domain={[34, 62]}
            ticks={yTicks}
            interval={0}
            width={1}
            tickSize={0}
            tickMargin={0}
            axisLine={false}
            tickLine={false}
            tick={renderYTick}
          />

          {eventDays.map((d, i) => (
            <ReferenceLine key={`ev-${d}`} x={d} stroke="none" label={makeEventLabel(eventLabels[i])} />
          ))}
          <ReferenceLine x={latestDay} stroke="#121212" strokeWidth={2.5} label={renderLatest} />
        </ComposedChart>
      </div>

      <div
        style={{
          position: 'absolute',
          left: 42,
          top: 45,
          fontFamily: '"Liberation Serif", "Times New Roman", serif',
          fontWeight: 700,
          fontSize: 62,
          lineHeight: '62px',
          color: '#121212',
          transform: 'scaleX(0.9)',
          transformOrigin: 'left top',
          whiteSpace: 'nowrap',
        }}
      >
        Presidential approval rating
      </div>
      <div
        style={{
          position: 'absolute',
          left: 42,
          top: 132,
          fontSize: 31,
          lineHeight: '41px',
          color: '#333',
          whiteSpace: 'nowrap',
        }}
      >
        This is a daily average of polls conducted by dozens of different organizations since
        <br />
        Inauguration Day.{' '}
        <span
          style={{
            textDecoration: 'underline',
            textDecorationColor: '#b3b3b3',
            textDecorationThickness: 1.5,
            textUnderlineOffset: 6,
          }}
        >
          See the latest polls.
        </span>
      </div>
      <div
        style={{
          position: 'absolute',
          left: 43,
          top: 1275,
          fontSize: 27,
          lineHeight: '25px',
          color: '#666',
          whiteSpace: 'nowrap',
        }}
      >
        Note: Individual poll results are shown as circles. Polls with greater weight in the average have larger circles.
      </div>
      <div
        style={{
          position: 'absolute',
          left: 0,
          top: 1304,
          width: 1784,
          height: 34,
          background: 'linear-gradient(to bottom, rgba(240,240,240,0), #ededed)',
        }}
      />
    </div>
  );
}
